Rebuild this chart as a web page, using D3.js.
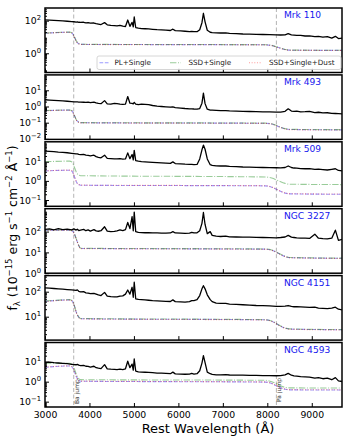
<!DOCTYPE html>
<html>
<head>
<meta charset="utf-8">
<script src="https://cdn.jsdelivr.net/npm/d3@7"></script>
<style>
  body { margin: 0; background: #fff; }
  svg { display: block; font-family: "DejaVu Sans", sans-serif; }
</style>
</head>
<body>
<svg id="chart" width="350" height="438"></svg>
<script>
// ---- data ----
const names = ['Mrk 110', 'Mrk 493', 'Mrk 509', 'NGC 3227', 'NGC 4151', 'NGC 4593'];

// rest wavelength grid of the spectra (Å)
const waves = [3000,3100,3200,3300,3400,3500,3600,3650,3700,3727,
  3760,3800,3869,3920,3970,4020,4101,4150,4200,4260,
  4340,4400,4480,4560,4620,4686,4750,4810,4861,4910,
  4959,4985,5007,5040,5100,5170,5250,5330,5420,5520,
  5620,5720,5820,5876,5930,6050,6150,6250,6300,6350,
  6420,6480,6530,6563,6600,6650,6716,6760,6850,6950,
  7065,7150,7300,7450,7600,7750,7900,8050,8200,8300,
  8400,8470,8542,8600,8662,8750,8850,8950,9069,9150,
  9250,9350,9450,9531,9600,9700];

const fluxMrk110 = [112,108,104,101,97,92,88,86,82,84,
  80,78,80,74,75,70,72,66,62,58,
  76,56,52,50,48,52,46,44,110,45,
  78,42,168,38,35,33,32,31,29.5,28,
  27,26,25,30,24.5,23.5,22.5,21.5,22,21,
  21,28,75,285,85,26,19.5,18.5,18,17.5,
  18,16.5,16,15.2,15,14.5,14.2,13.8,13.5,13.2,
  13.5,16,13.5,13,12.5,12.5,11.5,11.8,10.5,10.8,
  9.8,10.5,8.6,11,8,8.5];

const fluxMrk493 = [2.6,2.5,2.4,2.3,2.2,2.1,2.0,1.95,1.9,1.9,
  1.88,1.85,1.82,1.8,1.85,1.75,1.85,1.65,1.55,1.5,
  2.3,1.45,1.4,1.55,1.5,1.4,1.35,1.4,4.1,1.6,
  1.55,1.45,1.8,1.4,1.3,1.4,1.35,1.3,1.15,1.05,
  1.0,0.95,0.9,0.95,0.85,0.8,0.75,0.72,0.72,0.7,
  0.68,0.75,1.6,6.7,1.5,0.68,0.6,0.6,0.58,0.56,
  0.55,0.53,0.52,0.5,0.49,0.48,0.47,0.46,0.45,0.45,
  0.5,0.72,0.52,0.5,0.52,0.47,0.48,0.5,0.42,0.44,
  0.4,0.41,0.38,0.37,0.36,0.35];

const fluxMrk509 = [36,35,33.5,32,31,29.5,27.5,26.5,25.5,26,
  24.5,23.5,24,22,21.5,20.5,22,18.5,17,16,
  22,15,14.5,14,14,14.5,13.8,14,29,14.5,
  24,12.5,39,11.5,10.8,10.2,9.9,9.6,9.3,9,
  8.7,8.4,8.2,9.8,8,7.8,7.5,7.3,7.2,7.1,
  7.2,14,42,74,45,14,7,6.4,6.1,6,
  6,5.7,5.5,5.3,5.2,5.1,5.0,4.9,4.85,4.8,
  5.0,6.0,5.0,4.7,4.6,4.4,4.3,4.4,4.0,4.1,
  3.9,3.7,4.0,4.3,3.5,3.3];

const fluxNGC3227 = [128,135,122,138,125,132,120,135,118,130,
  112,118,128,110,120,106,125,108,104,110,
  170,105,100,102,108,120,112,125,275,140,
  520,110,870,100,92,90,88,88,86,86,
  85,85,86,100,86,84,82,84,92,86,
  88,110,250,830,220,80,100,66,60,58,
  60,56,55,54,54,53,52,51,50,52,
  55,66,54,52,50,49,48,47,75,48,
  46,45,48,117,38,43];

const fluxNGC4151 = [142,138,134,130,126,122,118,116,112,118,
  104,98,100,90,88,84,86,80,74,70,
  94,66,63,62,62,66,68,80,117,80,
  150,60,240,52,49,48,47,45.5,44,43,
  42,41,40.5,47,40,39,38.5,40,44,44,
  48,70,130,174,130,75,48,40,35,34,
  34,32,31,30,29,28,27.5,27,26,26,
  26.5,28,26,25,25,24.5,24,23.5,24,22,
  21.5,21,22,24,20,18.5];

const fluxNGC4593 = [9.2,9.6,9.0,8.6,8.2,7.9,7.4,7.2,7.0,7.3,
  6.7,6.4,6.6,5.9,5.8,5.4,5.9,5.0,4.7,4.5,
  7.1,4.4,4.2,4.1,4.0,4.2,4.0,4.4,10.5,5.0,
  7.5,3.8,13.6,3.4,3.1,3.0,2.95,2.9,2.8,2.7,
  2.65,2.6,2.5,3.0,2.45,2.4,2.35,2.4,2.6,2.4,
  2.5,3.5,8.5,20,9,3.0,2.5,2.3,2.2,2.2,
  2.25,2.15,2.1,2.1,2.05,2.05,2.0,2.0,1.98,2.0,
  2.2,2.6,2.1,1.95,1.9,1.8,1.75,1.7,1.5,1.6,
  1.4,1.5,1.25,1.6,1.1,1.0];

const spectra = [fluxMrk110, fluxMrk493, fluxMrk509, fluxNGC3227, fluxNGC4151, fluxNGC4593];

// model continua (one row per galaxy)
const modelWaves = [3000, 3550, 3610, 3660, 3710, 3770, 3800, 7950, 8100, 8250, 8400, 8500, 9700];

const plSingle = [
  [17, 19.5, 17.5, 10, 5.2, 3.7, 3.5, 3.3, 3.0, 2.25, 1.7, 1.55, 1.5],
  [0.55, 0.6, 0.53, 0.28, 0.14, 0.103, 0.099, 0.092, 0.083, 0.058, 0.042, 0.038, 0.036],
  [3.3, 3.6, 3.2, 1.7, 0.85, 0.62, 0.59, 0.55, 0.47, 0.32, 0.23, 0.21, 0.2],
  [117, 118, 110, 78, 40, 19, 15.5, 14.3, 12.8, 9, 6.4, 5.6, 5.2],
  [41, 47, 43, 27, 14, 9, 8.3, 7.5, 6.6, 4.7, 3.5, 3.2, 3.0],
  [5.2, 6.1, 5.5, 3.3, 1.7, 1.1, 1.05, 0.95, 0.8, 0.55, 0.42, 0.39, 0.38]
];
const ssdSingle = [
  [17.3, 19.8, 17.8, 10.3, 5.4, 3.75, 3.55, 3.35, 3.05, 2.3, 1.72, 1.57, 1.52],
  [0.56, 0.61, 0.54, 0.29, 0.143, 0.105, 0.101, 0.094, 0.085, 0.059, 0.043, 0.039, 0.037],
  [10, 10.8, 9.6, 5.2, 2.7, 1.95, 1.87, 1.6, 1.4, 1.0, 0.74, 0.67, 0.64],
  [119, 120, 112, 80, 41, 19.5, 15.8, 14.6, 13, 9.2, 6.5, 5.7, 5.3],
  [42, 48, 44, 27.5, 14.3, 9.2, 8.5, 7.6, 6.7, 4.8, 3.55, 3.25, 3.05],
  [8.3, 8.2, 7.5, 4.5, 2.2, 1.35, 1.26, 1.17, 1.0, 0.7, 0.52, 0.49, 0.48]
];
const ssdSingleDust = [
  [16.8, 19.3, 17.3, 9.8, 5.1, 3.65, 3.45, 3.25, 2.95, 2.2, 1.68, 1.53, 1.48],
  [0.54, 0.59, 0.52, 0.275, 0.138, 0.101, 0.097, 0.09, 0.082, 0.057, 0.041, 0.037, 0.035],
  [3.35, 3.65, 3.25, 1.72, 0.86, 0.63, 0.6, 0.56, 0.48, 0.325, 0.235, 0.215, 0.205],
  [115, 116, 108, 76, 39, 18.6, 15.2, 14, 12.6, 8.8, 6.3, 5.5, 5.1],
  [40, 46, 42, 26.5, 13.7, 8.8, 8.1, 7.4, 6.5, 4.6, 3.45, 3.15, 2.95],
  [5.3, 6.2, 5.6, 3.35, 1.72, 1.12, 1.07, 0.97, 0.82, 0.56, 0.43, 0.4, 0.39]
];

const legendLabels = ['PL+Single', 'SSD+Single', 'SSD+Single+Dust'];

// axis ranges and tick labels
const yRanges = [[0.066, 600], [0.0093, 89], [0.047, 110], [1, 1260], [1.16, 440], [0.054, 91]];
const yTickExp = [[0, 2], [-2, -1, 0, 1], [-1, 0, 1], [0, 1, 2], [1, 2], [-1, 0, 1]];
const xTicks = [3000, 4000, 5000, 6000, 7000, 8000, 9000];
const jumpWaves = [3646, 8204];
const jumpLabels = ['Ba jump', 'Pa jump'];

// ---- drawing ----
const left = 45, right = 342, top0 = 8, pitch = 66.9, ph = 64.5;
const svg = d3.select('#chart');

const x = d3.scaleLinear().domain([3000, 9680]).range([left, right]);

const models = [
    { rows: plSingle, color: 'blue', dash: '3.7,1.6' },
    { rows: ssdSingle, color: 'green', dash: '6.4,1.6,1,1.6' },
    { rows: ssdSingleDust, color: 'red', dash: '1,1.65' }
];

const sup = (t, s) => {
    // "10" followed by a raised exponent
    t.append('tspan').text(s[0]);
    t.append('tspan').attr('dy', -4).attr('font-size', '6.8px').text(s[1]);
};

names.forEach((name, i) => {
    const top = top0 + i * pitch, bottom = top + ph;
    const y = d3.scaleLog().domain(yRanges[i]).range([bottom, top]);
    const g = svg.append('g');

    g.append('clipPath').attr('id', `clip${i}`)
      .append('rect')
      .attr('x', left).attr('y', top)
      .attr('width', right - left).attr('height', ph);

    const plot = g.append('g').attr('clip-path', `url(#clip${i})`);

    jumpWaves.forEach(w => {
        plot.append('line')
          .attr('x1', x(w)).attr('x2', x(w))
          .attr('y1', top).attr('y2', bottom)
          .attr('stroke', '#aaa')
          .attr('stroke-width', 0.9)
          .attr('stroke-dasharray', '4,2.5');
    });

    const modelLine = d3.line()
      .x(d => x(d[0]))
      .y(d => y(d[1]))
      .curve(d3.curveMonotoneX);

    models.forEach(m => {
        const pts = modelWaves.map((w, k) => [w, m.rows[i][k]]);
        plot.append('path')
          .datum(pts)
          .attr('d', modelLine)
          .attr('fill', 'none')
          .attr('stroke', m.color)
          .attr('stroke-opacity', 0.4)
          .attr('stroke-width', 1.1)
          .attr('stroke-dasharray', m.dash);
    });

    const specLine = d3.line()
      .x(d => x(d[0]))
      .y(d => y(d[1]));

    plot.append('path')
      .datum(waves.map((w, k) => [w, spectra[i][k]]))
      .attr('d', specLine)
      .attr('fill', 'none')
      .attr('stroke', '#000')
      .attr('stroke-width', 1.3)
      .attr('stroke-linejoin', 'round');

    // y ticks, major + minor, pointing inward
    const [lo, hi] = yRanges[i];
    const minor = [];
    for (let e = Math.floor(Math.log10(lo)); e <= Math.ceil(Math.log10(hi)); e++) {
        for (let k = 2; k <= 9; k++) {
            const v = k * Math.pow(10, e);
            if (v > lo && v < hi) minor.push(v);
        }
    }
    const major = yTickExp[i].map(e => Math.pow(10, e));

    const ya = g.append('g').attr('transform', `translate(${left},0)`);
    ya.call(d3.axisLeft(y).tickValues(major).tickSize(-4).tickFormat(''));
    ya.select('.domain').remove();
    const ym = g.append('g').attr('transform', `translate(${left},0)`);
    ym.call(d3.axisLeft(y).tickValues(minor).tickSize(-2).tickFormat(''));
    ym.select('.domain').remove();

    yTickExp[i].forEach(e => {
        const t = g.append('text')
          .attr('x', 41)
          .attr('y', y(Math.pow(10, e)) + 3.5)
          .attr('text-anchor', 'end')
          .attr('font-size', '9.3px')
          .attr('fill', '#000');
        sup(t, ['10', e < 0 ? '\u2212' + Math.abs(e) : String(e)]);
    });

    // x ticks on each panel bottom
    const xa = g.append('g').attr('transform', `translate(0,${bottom})`);
    xa.call(d3.axisBottom(x).tickValues(xTicks).tickSize(-4).tickPadding(4)
        .tickFormat(i === names.length - 1 ? d3.format('d') : ''));
    xa.select('.domain').remove();
    xa.selectAll('text').attr('font-size', '9.3px').attr('font-family', '"DejaVu Sans", sans-serif').attr('fill', '#000');

    // frame
    g.append('rect')
      .attr('x', left).attr('y', top)
      .attr('width', right - left).attr('height', ph)
      .attr('fill', 'none')
      .attr('stroke', '#000')
      .attr('stroke-width', 1.5);

    g.append('text')
      .attr('x', 284).attr('y', top + 10.4)
      .attr('font-size', '9.1px')
      .attr('fill', '#1515ee')
      .text(name);

    if (i === names.length - 1) {
        jumpWaves.forEach((w, k) => {
            g.append('text')
              .attr('transform', `translate(${x(w) + 5},${bottom - (k === 0 ? 3 : 5)}) rotate(-90)`)
              .attr('font-size', '6px')
              .attr('fill', '#333')
              .text(jumpLabels[k]);
        });
    }

    if (i === 0) {
        const lg = g.append('g');
        lg.append('rect')
          .attr('x', 97).attr('y', 56)
          .attr('width', 244).attr('height', 13.5)
          .attr('rx', 2)
          .attr('fill', '#fff').attr('fill-opacity', 0.85)
          .attr('stroke', '#ccc').attr('stroke-width', 0.8);
        const lx = [[99.5, 109.5, 114.5], [170, 181, 188.5], [249, 262, 269]];
        models.forEach((m, k) => {
            lg.append('line')
              .attr('x1', lx[k][0]).attr('x2', lx[k][1])
              .attr('y1', 62.7).attr('y2', 62.7)
              .attr('stroke', m.color).attr('stroke-opacity', 0.4)
              .attr('stroke-width', 1.1)
              .attr('stroke-dasharray', m.dash);
            lg.append('text')
              .attr('x', lx[k][2]).attr('y', 65.4)
              .attr('font-size', '7.2px')
              .attr('fill', '#222')
              .text(legendLabels[k]);
        });
    }
});

// axis titles
const yl = svg.append('text')
  .attr('transform', 'translate(17,228) rotate(-90)')
  .attr('text-anchor', 'middle')
  .attr('font-size', '12.5px')
  .attr('fill', '#000');
yl.append('tspan').text('f');
yl.append('tspan').attr('dy', 2.5).attr('font-size', '8.5px').text('\u03bb');
yl.append('tspan').attr('dy', -2.5).text(' (10');
yl.append('tspan').attr('dy', -5).attr('font-size', '8.5px').text('\u221215');
yl.append('tspan').attr('dy', 5).text(' erg s');
yl.append('tspan').attr('dy', -5).attr('font-size', '8.5px').text('\u22121');
yl.append('tspan').attr('dy', 5).text(' cm');
yl.append('tspan').attr('dy', -5).attr('font-size', '8.5px').text('\u22122');
yl.append('tspan').attr('dy', 5).text(' \u00c5');
yl.append('tspan').attr('dy', -5).attr('font-size', '8.5px').text('\u22121');
yl.append('tspan').attr('dy', 5).text(')');

svg.append('text')
  .attr('x', 208).attr('y', 432.5)
  .attr('text-anchor', 'middle')
  .attr('font-size', '13px')
  .attr('fill', '#000')
  .text('Rest Wavelength (\u00c5)');
</script>
</body>
</html>
